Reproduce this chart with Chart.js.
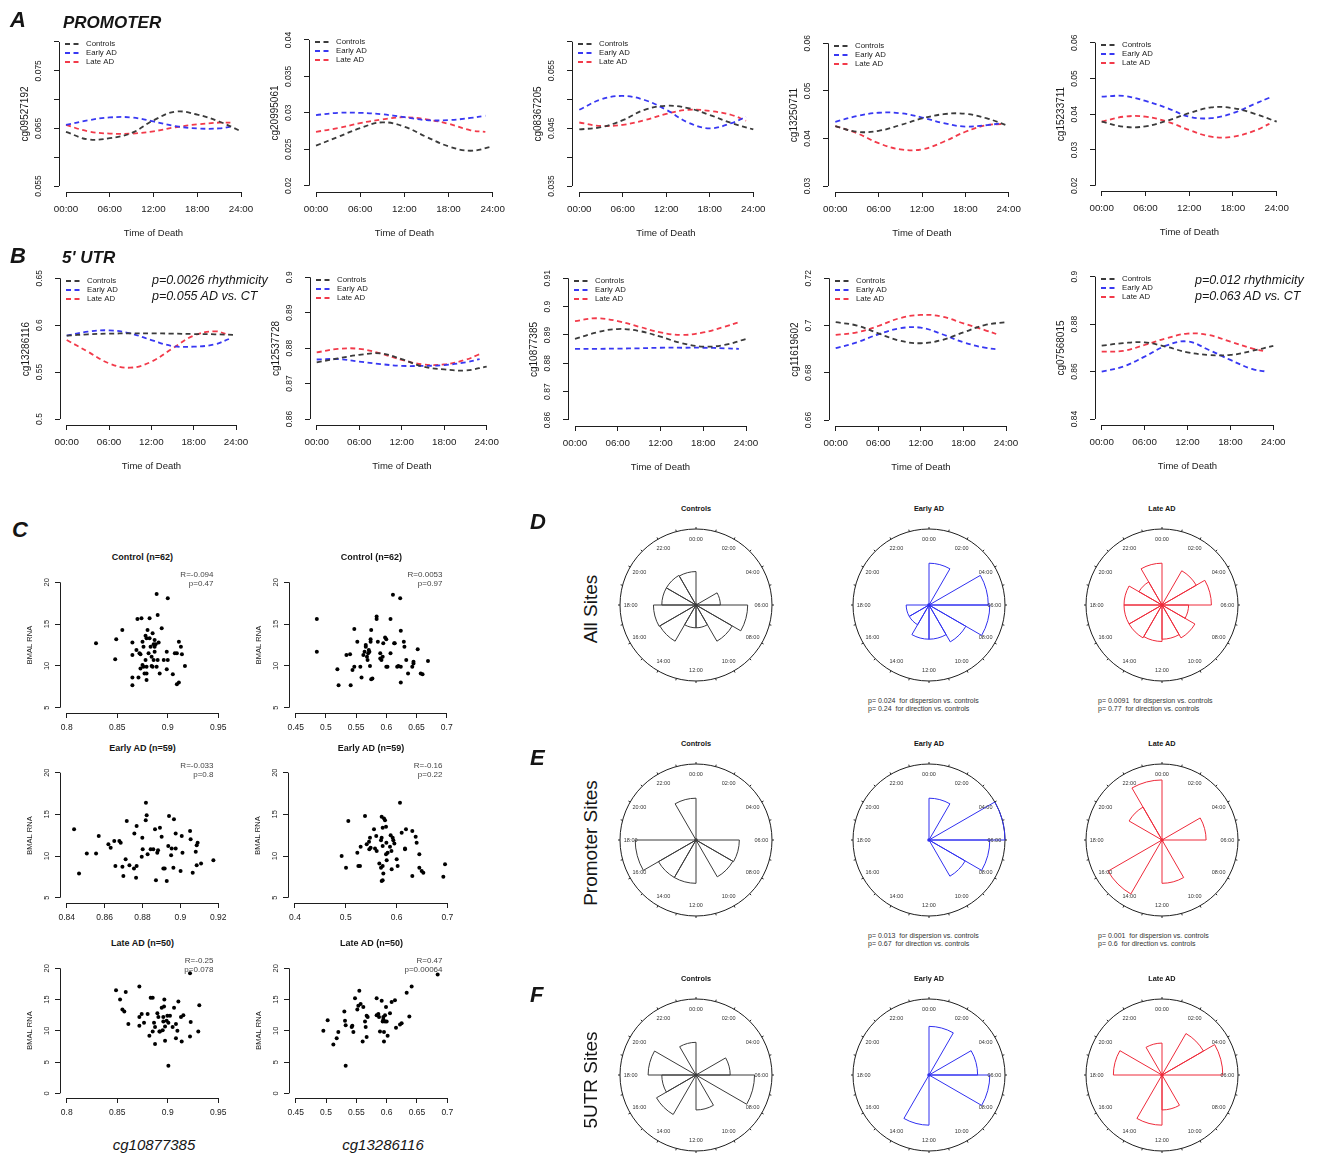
<!DOCTYPE html>
<html><head><meta charset="utf-8">
<script src="https://cdn.jsdelivr.net/npm/chart.js@4.4.1/dist/chart.umd.min.js"></script>
<style>
html,body{margin:0;padding:0;background:#fff;}
body{width:1324px;height:1157px;position:relative;overflow:hidden;font-family:'Liberation Sans',Arial,Helvetica,sans-serif;color:#151515;}
canvas{position:absolute;}
.t{position:absolute;white-space:pre;line-height:1;}
</style></head><body>
<script>
// ---------------- DATA ----------------
const GROUPS = ['Controls', 'Early AD', 'Late AD'];
const TIME_TICKS = [0, 6, 12, 18, 24];
const TIME_LABELS = ['00:00', '06:00', '12:00', '18:00', '24:00'];
const HOURS_CT = [0, 3, 6, 9, 12, 15, 18, 21, 24];
const HOURS_AD = [0, 3, 6, 9, 12, 15, 18, 21, 23];

const PROMOTER_SITES = ['cg09527192', 'cg20995061', 'cg08367205', 'cg13250711', 'cg15233711'];
const UTR_SITES = ['cg13286116', 'cg12537728', 'cg10877385', 'cg11619602', 'cg07568015'];

// Panel A (promoter)
const A1_CT = [0.0644, 0.0631, 0.0633, 0.0642, 0.0664, 0.0679, 0.0674, 0.0662, 0.0645];
const A1_EARLY = [0.0656, 0.0664, 0.0669, 0.0669, 0.0662, 0.0654, 0.0650, 0.0650, 0.0654];
const A1_LATE = [0.0656, 0.0645, 0.0641, 0.0641, 0.0645, 0.0652, 0.0657, 0.0660, 0.0660];
const A1_YTICKS = [0.055, 0.06, 0.065, 0.07, 0.075, 0.08];
const A1_YLABELS = ['0.055', '', '0.065', '', '0.075', ''];

const A2_CT = [0.0255, 0.0267, 0.0279, 0.0287, 0.0281, 0.0267, 0.0254, 0.0248, 0.0254];
const A2_EARLY = [0.0297, 0.0300, 0.0300, 0.0298, 0.0294, 0.0290, 0.0290, 0.0293, 0.0296];
const A2_LATE = [0.0274, 0.0279, 0.0286, 0.0291, 0.0294, 0.0291, 0.0285, 0.0276, 0.0274];
const A2_YTICKS = [0.02, 0.025, 0.03, 0.035, 0.04];
const A2_YLABELS = ['0.02', '0.025', '0.03', '0.035', '0.04'];

const A3_CT = [0.0448, 0.0452, 0.0464, 0.0482, 0.0489, 0.0485, 0.0473, 0.0459, 0.0448];
const A3_EARLY = [0.0482, 0.0500, 0.0506, 0.0499, 0.0482, 0.0460, 0.0450, 0.0459, 0.0470];
const A3_LATE = [0.0460, 0.0454, 0.0456, 0.0464, 0.0475, 0.0482, 0.0480, 0.0473, 0.0463];
const A3_YTICKS = [0.035, 0.04, 0.045, 0.05, 0.055, 0.06];
const A3_YLABELS = ['0.035', '', '0.045', '', '0.055', ''];

const A4_CT = [0.0426, 0.0414, 0.0416, 0.0428, 0.0442, 0.0451, 0.0452, 0.0442, 0.0426];
const A4_EARLY = [0.0435, 0.0447, 0.0454, 0.0453, 0.0444, 0.0432, 0.0425, 0.0428, 0.0432];
const A4_LATE = [0.0426, 0.0411, 0.0390, 0.0377, 0.0377, 0.0393, 0.0414, 0.0428, 0.0430];
const A4_YTICKS = [0.03, 0.04, 0.05, 0.06];
const A4_YLABELS = ['0.03', '0.04', '0.05', '0.06'];

const A5_CT = [0.0379, 0.0365, 0.0366, 0.0382, 0.0403, 0.0419, 0.0417, 0.0401, 0.0379];
const A5_EARLY = [0.0449, 0.0451, 0.0437, 0.0417, 0.0393, 0.0389, 0.0403, 0.0429, 0.0446];
const A5_LATE = [0.0379, 0.0393, 0.0393, 0.0379, 0.0356, 0.0337, 0.0337, 0.0354, 0.0373];
const A5_YTICKS = [0.02, 0.03, 0.04, 0.05, 0.06];
const A5_YLABELS = ['0.02', '0.03', '0.04', '0.05', '0.06'];

// Panel B (5' UTR)
const B1_CT = [0.5888, 0.5903, 0.5910, 0.5913, 0.5913, 0.5910, 0.5906, 0.5903, 0.5896];
const B1_EARLY = [0.5888, 0.5931, 0.5945, 0.5913, 0.5842, 0.5778, 0.5771, 0.5796, 0.5853];
const B1_LATE = [0.5842, 0.5718, 0.5593, 0.5547, 0.5611, 0.5753, 0.5888, 0.5935, 0.5896];
const B1_YTICKS = [0.5, 0.55, 0.6, 0.65];
const B1_YLABELS = ['0.5', '0.55', '0.6', '0.65'];

const B2_CT = [0.8760, 0.8771, 0.8781, 0.8785, 0.8769, 0.8748, 0.8740, 0.8737, 0.8748];
const B2_EARLY = [0.8768, 0.8769, 0.8762, 0.8755, 0.8750, 0.8750, 0.8752, 0.8760, 0.8769];
const B2_LATE = [0.8788, 0.8798, 0.8798, 0.8785, 0.8767, 0.8754, 0.8754, 0.8767, 0.8783];
const B2_YTICKS = [0.86, 0.87, 0.88, 0.89, 0.9];
const B2_YLABELS = ['0.86', '0.87', '0.88', '0.89', '0.9'];

const B3_CT = [0.8886, 0.8909, 0.8921, 0.8914, 0.8894, 0.8871, 0.8859, 0.8865, 0.8886];
const B3_EARLY = [0.8851, 0.8851, 0.8852, 0.8853, 0.8855, 0.8855, 0.8855, 0.8853, 0.8851];
const B3_LATE = [0.8949, 0.8959, 0.8949, 0.8929, 0.8909, 0.8900, 0.8909, 0.8929, 0.8945];
const B3_YTICKS = [0.86, 0.87, 0.88, 0.89, 0.9, 0.91];
const B3_YLABELS = ['0.86', '0.87', '0.88', '0.89', '0.9', '0.91'];

const B4_CT = [0.7014, 0.7000, 0.6967, 0.6936, 0.6925, 0.6939, 0.6971, 0.7002, 0.7014];
const B4_EARLY = [0.6904, 0.6929, 0.6963, 0.6988, 0.6991, 0.6963, 0.6929, 0.6906, 0.6899];
const B4_LATE = [0.6960, 0.6971, 0.6998, 0.7031, 0.7045, 0.7038, 0.7009, 0.6981, 0.6960];
const B4_YTICKS = [0.66, 0.68, 0.7, 0.72];
const B4_YLABELS = ['0.66', '0.68', '0.7', '0.72'];

const B5_CT = [0.8709, 0.8720, 0.8723, 0.8705, 0.8681, 0.8670, 0.8670, 0.8687, 0.8708];
const B5_EARLY = [0.8600, 0.8621, 0.8663, 0.8709, 0.8727, 0.8691, 0.8649, 0.8611, 0.8600];
const B5_LATE = [0.8684, 0.8687, 0.8712, 0.8740, 0.8760, 0.8754, 0.8726, 0.8698, 0.8684];
const B5_YTICKS = [0.84, 0.86, 0.88, 0.9];
const B5_YLABELS = ['0.84', '0.86', '0.88', '0.9'];

// Panel C scatter (methylation vs BMAL RNA)
const C1_X = [0.829,0.849,0.855,0.848,0.865,0.865,0.865,0.865,0.871,0.870,0.874,0.869,0.872,0.873,0.875,0.876,0.875,0.876,0.878,0.880,0.879,0.878,0.879,0.879,0.879,0.881,0.882,0.883,0.884,0.885,0.886,0.887,0.886,0.887,0.889,0.890,0.891,0.890,0.889,0.894,0.892,0.896,0.899,0.899,0.900,0.900,0.905,0.907,0.909,0.909,0.911,0.911,0.913,0.914,0.917,0.885,0.882,0.873,0.877,0.887,0.884,0.888];
const C1_Y = [12.7,13.2,14.3,10.8,7.7,8.6,11.3,12.8,8.6,15.6,15.7,11.9,11.5,11.4,12.9,12.3,10.1,9.9,13.6,14.3,13.3,10.7,9.9,9.1,8.3,11.5,15.7,12.3,11.1,9.9,10.7,11.7,12.6,13.1,9.9,10.7,12.8,16.1,18.6,14.5,9.1,10.7,9.6,11.7,10.7,18.1,9.0,11.5,11.5,7.8,8.0,12.9,12.3,11.4,10.0,13.9,13.3,9.7,9.1,12.3,10.0,12.6];
const C2_X = [0.485,0.485,0.519,0.521,0.534,0.540,0.541,0.544,0.547,0.547,0.552,0.557,0.559,0.562,0.564,0.566,0.566,0.568,0.569,0.570,0.572,0.573,0.574,0.575,0.577,0.574,0.575,0.584,0.584,0.590,0.590,0.592,0.594,0.595,0.598,0.600,0.600,0.602,0.607,0.607,0.611,0.613,0.614,0.618,0.623,0.624,0.624,0.624,0.630,0.629,0.633,0.636,0.643,0.645,0.645,0.652,0.657,0.660,0.669,0.571,0.586,0.620];
const C2_Y = [15.6,11.7,9.6,7.7,11.3,11.4,7.7,9.5,9.9,14.4,12.9,9.9,8.6,11.3,11.7,12.3,12.5,11.1,10.7,11.5,11.7,10.0,13.2,8.4,8.5,12.9,14.3,15.9,15.6,10.9,11.5,10.7,11.1,12.7,13.4,13.2,9.9,9.9,11.5,15.6,18.5,12.7,12.7,9.9,18.1,14.2,9.9,8.0,12.3,12.9,10.7,9.1,9.9,10.3,10.5,12.0,9.1,9.0,10.6,11.9,12.9,10.0];
const C3_X = [0.8439,0.8465,0.8506,0.8555,0.8569,0.862,0.8632,0.8651,0.8657,0.8678,0.8685,0.8694,0.8699,0.8711,0.8717,0.8731,0.8755,0.8757,0.8766,0.8769,0.8769,0.8799,0.8796,0.8801,0.8817,0.8818,0.8822,0.8827,0.8843,0.8857,0.8866,0.8871,0.8878,0.8882,0.8892,0.8901,0.891,0.8917,0.8928,0.8936,0.894,0.8951,0.8954,0.8963,0.8966,0.8975,0.8975,0.9007,0.9011,0.9001,0.9051,0.9054,0.9065,0.9081,0.9086,0.9091,0.9086,0.9109,0.9174];
const C3_Y = [13.2,7.9,10.3,10.3,12.4,11.4,11.0,11.8,8.8,11.8,11.6,8.7,7.6,9.6,14.2,8.9,8.5,12.7,7.4,8.8,13.6,12.2,9.9,10.8,14.3,16.4,14.9,10.2,10.8,10.8,13.2,7.1,10.4,10.7,13.4,12.3,8.5,8.5,7.0,11.2,14.8,10.1,10.9,8.6,14.4,12.7,10.9,12.4,10.4,8.2,13.0,12.0,8.0,10.5,11.3,11.6,8.9,9.1,9.5];
const C4_X = [0.4919,0.5005,0.505,0.5228,0.5248,0.528,0.5293,0.5379,0.5412,0.5458,0.5464,0.5477,0.549,0.5556,0.5576,0.5609,0.5661,0.5694,0.5694,0.5707,0.5707,0.5727,0.5727,0.5727,0.5707,0.5727,0.574,0.5753,0.5773,0.5793,0.5793,0.5806,0.5825,0.5871,0.5884,0.5904,0.5924,0.5937,0.5957,0.6003,0.6022,0.6068,0.6101,0.6167,0.6167,0.6186,0.6311,0.6311,0.6377,0.6396,0.6449,0.6449,0.6495,0.6528,0.6955,0.6922,0.58,0.56,0.59];
const C4_Y = [10.0,8.6,14.2,10.4,8.8,8.8,11.1,14.8,11.4,11.7,10.8,12.2,11.0,13.2,10.9,10.6,9.1,8.6,11.9,12.2,14.7,13.4,11.2,8.8,7.0,7.1,7.9,14.5,14.3,13.5,10.2,9.5,10.4,11.1,12.5,8.4,12.2,11.9,11.5,9.6,8.8,16.4,12.8,10.9,10.8,13.2,13.0,7.6,12.3,11.6,10.2,8.6,8.2,8.0,9.0,7.5,11.6,12.4,10.6];
const C5_X = [0.8488,0.8528,0.8551,0.8570,0.8584,0.8610,0.8719,0.8719,0.8719,0.8742,0.8765,0.8801,0.8818,0.8831,0.8851,0.8851,0.8864,0.8874,0.8874,0.8897,0.8907,0.8917,0.8923,0.8940,0.8956,0.8956,0.8966,0.8963,0.8973,0.8973,0.8989,0.8996,0.9006,0.9006,0.9022,0.9048,0.9062,0.9081,0.9081,0.9095,0.9105,0.9131,0.9138,0.9154,0.9220,0.9227,0.9220,0.9302,0.9312,0.8950];
const C5_Y = [16.5,15.0,13.4,13.1,16.2,11.1,17.1,12.2,10.8,12.7,11.3,12.7,9.2,15.3,15.3,9.9,11.3,7.9,10.6,12.8,12.2,9.9,9.9,13.7,11.5,12.2,15.0,13.9,8.4,10.7,11.6,12.4,4.4,11.3,12.4,10.6,13.7,11.1,8.8,10.0,14.7,12.2,8.3,12.5,9.1,11.4,19.2,9.9,14.1,10.1];
const C6_X = [0.4956,0.5027,0.5121,0.5176,0.5203,0.5302,0.5313,0.5324,0.5324,0.5423,0.5434,0.5451,0.5478,0.5516,0.5533,0.5549,0.5571,0.5604,0.5615,0.5643,0.5654,0.5670,0.5670,0.5687,0.5835,0.5835,0.5863,0.5874,0.5890,0.5918,0.5934,0.5945,0.5956,0.5956,0.5973,0.5973,0.5989,0.6000,0.6016,0.6055,0.6082,0.6137,0.6154,0.6220,0.6247,0.6330,0.6374,0.6412,0.6841,0.5945];
const C6_Y = [10.0,11.7,7.8,8.8,9.8,13.1,11.6,10.9,4.4,10.6,10.8,9.8,15.2,13.4,14.0,16.4,14.3,8.3,13.8,11.5,10.6,12.4,9.0,12.2,15.2,12.5,12.7,12.2,9.9,14.8,11.5,11.8,8.3,9.8,11.5,12.5,13.8,11.5,9.2,12.8,14.6,14.9,10.5,11.0,11.2,16.1,12.3,17.1,19.0,12.2];

const C_TITLES = ['Control (n=62)', 'Control (n=62)', 'Early AD (n=59)', 'Early AD (n=59)', 'Late AD (n=50)', 'Late AD (n=50)'];
const C_STATS = [['R=-0.094','p=0.47'], ['R=0.0053','p=0.97'], ['R=-0.033','p=0.8'], ['R=-0.16','p=0.22'], ['R=-0.25','p=0.078'], ['R=0.47','p=0.00064']];
const CX_A_TICKS = [0.8, 0.85, 0.9, 0.95];       const CX_A_LABELS = ['0.8', '0.85', '0.9', '0.95'];
const CX_B_TICKS = [0.45, 0.5, 0.55, 0.6, 0.65, 0.7]; const CX_B_LABELS = ['0.45', '0.5', '0.55', '0.6', '0.65', '0.7'];
const CX_C_TICKS = [0.84, 0.86, 0.88, 0.9, 0.92]; const CX_C_LABELS = ['0.84', '0.86', '0.88', '0.9', '0.92'];
const CX_D_TICKS = [0.4, 0.5, 0.6, 0.7];          const CX_D_LABELS = ['0.4', '0.5', '0.6', '0.7'];
const CY_TICKS = [5, 10, 15, 20];                 const CY_LABELS = ['5', '10', '15', '20'];
const CY0_TICKS = [0, 5, 10, 15, 20];             const CY0_LABELS = ['0', '5', '10', '15', '20'];

// Panels D-F rose diagrams: relative radius per 2-hour bin (00-02, 02-04, ... 22-24)
const HOUR_LABELS = ['00:00','02:00','04:00','06:00','08:00','10:00','12:00','14:00','16:00','18:00','20:00','22:00'];
const ROSE_ALL_CT    = [0, 0, 0.32, 0.68, 0.55, 0.30, 0.30, 0.55, 0.56, 0.45, 0.45, 0.44];
const ROSE_ALL_EARLY = [0.55, 0, 0.78, 0.80, 0.56, 0.45, 0.45, 0.30, 0.30, 0, 0, 0];
const ROSE_ALL_LATE  = [0, 0.52, 0.65, 0.35, 0.50, 0.45, 0.48, 0.50, 0.50, 0.50, 0.35, 0.55];
const ROSE_PROM_CT    = [0, 0, 0, 0.57, 0.56, 0, 0.57, 0.57, 0.80, 0, 0, 0.55];
const ROSE_PROM_EARLY = [0.55, 0, 1.0, 0.80, 0.55, 0, 0, 0, 0, 0, 0, 0];
const ROSE_PROM_LATE  = [0, 0, 0.58, 0, 0, 0.57, 0, 0.82, 0, 0, 0.50, 0.79];
const ROSE_UTR_CT    = [0, 0, 0.45, 0.77, 0, 0.46, 0, 0.60, 0.45, 0.63, 0, 0.43];
const ROSE_UTR_EARLY = [0.64, 0, 0.64, 0.80, 0, 0, 0.66, 0, 0, 0, 0, 0];
const ROSE_UTR_LATE  = [0, 0.63, 0.80, 0, 0, 0.46, 0.66, 0, 0, 0.64, 0, 0.42];

// ---------------- STYLE / LAYOUT ----------------
const FAM = '"Liberation Sans", Arial, Helvetica, sans-serif';
Chart.defaults.font.family = FAM;
Chart.defaults.color = '#1a1a1a';
Chart.defaults.animation = false;
const COL = { ct: '#3b3b3b', early: '#3838f2', late: '#f23a4a' };

const alignPx = p => Math.round(p - 0.5) + 0.5;

const rAxes = {
  id: 'rAxes',
  afterDraw(chart, args, o) {
    if (!o || !o.on) return;
    const ctx = chart.ctx, ca = chart.chartArea, xs = chart.scales.x, ys = chart.scales.y;
    const xt = xs.ticks, yt = ys.ticks;
    ctx.save();
    ctx.strokeStyle = '#1e1e1e'; ctx.lineWidth = 1; ctx.setLineDash([]);
    const lx = alignPx(ca.left), by = alignPx(ca.bottom);
    ctx.beginPath();
    ctx.moveTo(lx, ys.getPixelForValue(yt[0].value)); ctx.lineTo(lx, ys.getPixelForValue(yt[yt.length - 1].value));
    ctx.moveTo(xs.getPixelForValue(xt[0].value), by); ctx.lineTo(xs.getPixelForValue(xt[xt.length - 1].value), by);
    ctx.stroke();
    ctx.fillStyle = '#1a1a1a'; ctx.font = o.yFont; ctx.textAlign = 'center'; ctx.textBaseline = 'middle';
    yt.forEach((t, i) => {
      const lab = o.yLabels[i]; if (!lab) return;
      ctx.save(); ctx.translate(ca.left - o.yOff, ys.getPixelForValue(t.value)); ctx.rotate(-Math.PI / 2);
      ctx.fillText(lab, 0, 0); ctx.restore();
    });
    if (o.legend) {
      const L = o.legend;
      ctx.font = L.font; ctx.textAlign = 'left';
      chart.data.datasets.forEach((ds, i) => {
        const y = ca.top + L.y0 + i * L.dy;
        ctx.strokeStyle = ds.borderColor; ctx.lineWidth = ds.borderWidth; ctx.setLineDash(ds.borderDash || []);
        ctx.beginPath(); ctx.moveTo(ca.left + L.x0, y); ctx.lineTo(ca.left + L.x1, y); ctx.stroke();
        ctx.fillStyle = '#1a1a1a'; ctx.fillText(ds.label, ca.left + L.xt, y);
      });
    }
    ctx.restore();
  }
};

const roseDeco = {
  id: 'roseDeco',
  afterDraw(chart, args, o) {
    if (!o || !o.on) return;
    const r = chart.scales.r, ctx = chart.ctx;
    const cx = r.xCenter, cy = r.yCenter, R = r.drawingArea;
    ctx.save();
    ctx.fillStyle = '#333'; ctx.font = '5.5px ' + FAM; ctx.textAlign = 'center'; ctx.textBaseline = 'middle';
    chart.data.labels.forEach((lab, i) => {
      const a = i * Math.PI * 2 / chart.data.labels.length - Math.PI / 2;
      ctx.fillText(lab, cx + Math.cos(a) * R * o.labelR, cy + Math.sin(a) * R * o.labelR);
    });
    ctx.strokeStyle = '#222'; ctx.lineWidth = 1;
    for (let k = 0; k < 24; k++) {
      const a = k * Math.PI * 2 / 24 - Math.PI / 2;
      ctx.beginPath(); ctx.moveTo(cx + Math.cos(a) * R, cy + Math.sin(a) * R);
      ctx.lineTo(cx + Math.cos(a) * (R + 2), cy + Math.sin(a) * (R + 2)); ctx.stroke();
    }
    ctx.fillStyle = o.color; ctx.beginPath(); ctx.arc(cx, cy, 1.8, 0, Math.PI * 2); ctx.fill();
    ctx.restore();
  }
};
Chart.register(rAxes, roseDeco);

function addCanvas(left, top, w, h) {
  const c = document.createElement('canvas');
  c.width = Math.round(w); c.height = Math.round(h);
  c.style.left = Math.round(left) + 'px'; c.style.top = Math.round(top) + 'px';
  document.body.appendChild(c);
  return c.getContext('2d');
}

function txt(s, x, y, css, align) {
  const d = document.createElement('div');
  d.className = 't'; d.textContent = s; d.style.cssText += css;
  d.style.left = x + 'px'; d.style.top = y + 'px';
  const tf = { l: 'translate(0,-50%)', c: 'translate(-50%,-50%)', r: 'translate(-100%,-50%)', v: 'translate(-50%,-50%) rotate(-90deg)' };
  d.style.transform = tf[align || 'l'];
  document.body.appendChild(d);
}

const gridTicks = { drawOnChartArea: false, drawTicks: true, tickLength: 5, color: '#1e1e1e', lineWidth: 1 };

// line plots: pixel positions of 00:00 / 24:00 and of the top / bottom y tick
const LINE_LAYOUT = [
  { x0: 66, x24: 241, top: 42, bot: 186 },
  { x0: 316, x24: 492.7, top: 40, bot: 185.7 },
  { x0: 579.3, x24: 753.3, top: 41.7, bot: 186 },
  { x0: 835.3, x24: 1008.7, top: 43.3, bot: 186 },
  { x0: 1101.7, x24: 1276.7, top: 42.7, bot: 185.7 },
  { x0: 66.7, x24: 236, top: 278.3, bot: 419 },
  { x0: 316.7, x24: 486.7, top: 277.3, bot: 419 },
  { x0: 575, x24: 746, top: 278.3, bot: 420 },
  { x0: 835.7, x24: 1006, top: 278.3, bot: 420 },
  { x0: 1101.7, x24: 1273.3, top: 276.7, bot: 419 }
];

function linePlot(L, site, yTicks, yLabels, ct, early, late) {
  const ca = {
    left: Math.round(L.x0 - 0.04 * (L.x24 - L.x0)), right: Math.round(L.x24 + 0.04 * (L.x24 - L.x0)),
    top: Math.round(L.top - 0.04 * (L.bot - L.top)), bottom: Math.round(L.bot + 0.04 * (L.bot - L.top))
  };
  const pxh = (L.x24 - L.x0) / 24;
  const xmin = -(L.x0 - ca.left) / pxh, xmax = 24 + (ca.right - L.x24) / pxh;
  const yLo = yTicks[0], yHi = yTicks[yTicks.length - 1];
  const pxy = (L.bot - L.top) / (yHi - yLo);
  const ymin = yLo - (ca.bottom - L.bot) / pxy, ymax = yHi + (L.top - ca.top) / pxy;
  const WY = 42, HX = 48, PT = 6, PR = 22;
  const ctx = addCanvas(ca.left - WY, ca.top - PT, ca.right - ca.left + WY + PR, ca.bottom - ca.top + PT + HX);
  const mk = (lab, hrs, vals, col) => ({
    label: lab, data: hrs.map((h, i) => ({ x: h, y: vals[i] })), borderColor: col, borderWidth: 1.8,
    borderDash: [5, 3.5], pointRadius: 0, tension: 0.4, fill: false
  });
  new Chart(ctx, {
    type: 'line',
    data: { datasets: [mk(GROUPS[0], HOURS_CT, ct, COL.ct), mk(GROUPS[1], HOURS_AD, early, COL.early), mk(GROUPS[2], HOURS_AD, late, COL.late)] },
    options: {
      responsive: false, animation: false, devicePixelRatio: 1,
      layout: { padding: { left: 0, top: PT, right: PR, bottom: 0 } },
      plugins: {
        legend: { display: false }, tooltip: { enabled: false },
        rAxes: { on: true, yLabels: yLabels, yOff: 20, yFont: '8.5px ' + FAM,
          legend: { x0: 6, x1: 23, xt: 27, y0: 8, dy: 9, font: '7.8px ' + FAM } }
      },
      scales: {
        x: {
          type: 'linear', min: xmin, max: xmax,
          afterBuildTicks: s => { s.ticks = TIME_TICKS.map(v => ({ value: v })); },
          afterFit: s => { s.height = HX; },
          grid: gridTicks, border: { display: false },
          ticks: { autoSkip: false, maxRotation: 0, minRotation: 0, padding: 6.3, color: '#1a1a1a',
            font: { size: 9.8, lineHeight: 1.2 }, callback: (v, i) => TIME_LABELS[i] },
          title: { display: true, text: 'Time of Death', color: '#1a1a1a', font: { size: 9.5, lineHeight: 1.2 }, padding: { top: 0, bottom: 1.3 } }
        },
        y: {
          type: 'linear', min: ymin, max: ymax,
          afterBuildTicks: s => { s.ticks = yTicks.map(v => ({ value: v })); },
          afterFit: s => { s.width = WY; },
          grid: gridTicks, border: { display: false }, ticks: { display: false },
          title: { display: true, text: site, color: '#1a1a1a', font: { size: 10, lineHeight: 1.2 }, padding: { top: 2, bottom: 0 } }
        }
      }
    }
  });
}

// scatter plots: pixel positions of first / last x tick and top / bottom y tick
const SCATTER_LAYOUT = [
  { x0: 66.7, x1: 218.3, top: 582.3, bot: 707.7 },
  { x0: 295.7, x1: 446.7, top: 582.3, bot: 707.7 },
  { x0: 66.7, x1: 218.3, top: 772.7, bot: 897.7 },
  { x0: 295, x1: 447.3, top: 772.7, bot: 897.7 },
  { x0: 66.7, x1: 218.3, top: 968.3, bot: 1093.3 },
  { x0: 295.7, x1: 447.3, top: 968.3, bot: 1093.3 }
];

function scatterPlot(L, xTicks, xLabels, yTicks, yLabels, xs, ys, title, stats) {
  const ca = { left: Math.round(L.x0 - 7), right: Math.round(L.x1 + 7), top: Math.round(L.top - 5), bottom: Math.round(L.bot + 5) };
  const xLo = xTicks[0], xHi = xTicks[xTicks.length - 1], yLo = yTicks[0], yHi = yTicks[yTicks.length - 1];
  const pxx = (L.x1 - L.x0) / (xHi - xLo), pxy = (L.bot - L.top) / (yHi - yLo);
  const xmin = xLo - (L.x0 - ca.left) / pxx, xmax = xHi + (ca.right - L.x1) / pxx;
  const ymin = yLo - (ca.bottom - L.bot) / pxy, ymax = yHi + (L.top - ca.top) / pxy;
  const WY = 40, HX = 24, PT = 6, PR = 16;
  const ctx = addCanvas(ca.left - WY, ca.top - PT, ca.right - ca.left + WY + PR, ca.bottom - ca.top + PT + HX);
  new Chart(ctx, {
    type: 'scatter',
    data: { datasets: [{ label: title, data: xs.map((x, i) => ({ x: x, y: ys[i] })), pointRadius: 2, pointBackgroundColor: '#000', pointBorderWidth: 0, borderWidth: 0 }] },
    options: {
      responsive: false, animation: false, devicePixelRatio: 1,
      layout: { padding: { left: 0, top: PT, right: PR, bottom: 0 } },
      plugins: { legend: { display: false }, tooltip: { enabled: false },
        rAxes: { on: true, yLabels: yLabels, yOff: 13, yFont: '7.5px ' + FAM } },
      scales: {
        x: {
          type: 'linear', min: xmin, max: xmax,
          afterBuildTicks: s => { s.ticks = xTicks.map(v => ({ value: v })); },
          afterFit: s => { s.height = HX; },
          grid: gridTicks, border: { display: false },
          ticks: { autoSkip: false, maxRotation: 0, minRotation: 0, padding: 4.9, color: '#1a1a1a',
            font: { size: 8.5, lineHeight: 1.2 }, callback: (v, i) => xLabels[i] }
        },
        y: {
          type: 'linear', min: ymin, max: ymax,
          afterBuildTicks: s => { s.ticks = yTicks.map(v => ({ value: v })); },
          afterFit: s => { s.width = WY; },
          grid: gridTicks, border: { display: false }, ticks: { display: false },
          title: { display: true, text: 'BMAL RNA', color: '#1a1a1a', font: { size: 7.5, lineHeight: 1.2 }, padding: { top: 5.5, bottom: 0 } }
        }
      }
    }
  });
  txt(title, (ca.left + ca.right) / 2, ca.top - 20, 'font-size:9px;font-weight:bold;', 'c');
  txt(stats[0], ca.right - 11.5, ca.top - 2.5, 'font-size:8px;color:#444;', 'r');
  txt(stats[1], ca.right - 11.5, ca.top + 6.8, 'font-size:8px;color:#444;', 'r');
}

const ROSE_CX = [696, 929, 1162];
const ROSE_CY = [605, 840, 1075];
function rose(cx, cy, vals, color) {
  const R = 76, P = 3;
  const ctx = addCanvas(cx - R - P, cy - R - P, 2 * (R + P), 2 * (R + P));
  new Chart(ctx, {
    type: 'polarArea',
    data: { labels: HOUR_LABELS, datasets: [{ data: vals, borderColor: color, backgroundColor: 'rgba(255,255,255,0)', borderWidth: 1 }] },
    options: {
      responsive: false, animation: false, devicePixelRatio: 1,
      layout: { padding: P },
      plugins: { legend: { display: false }, tooltip: { enabled: false }, roseDeco: { on: true, labelR: 0.86, color: color } },
      scales: { r: { min: 0, max: 1, ticks: { display: false, stepSize: 1 }, grid: { circular: true, color: '#1e1e1e', lineWidth: 1 },
        angleLines: { display: false }, pointLabels: { display: false } } }
    }
  });
}

// ---------------- BUILD ----------------
const A_DATA = [
  [A1_YTICKS, A1_YLABELS, A1_CT, A1_EARLY, A1_LATE], [A2_YTICKS, A2_YLABELS, A2_CT, A2_EARLY, A2_LATE],
  [A3_YTICKS, A3_YLABELS, A3_CT, A3_EARLY, A3_LATE], [A4_YTICKS, A4_YLABELS, A4_CT, A4_EARLY, A4_LATE],
  [A5_YTICKS, A5_YLABELS, A5_CT, A5_EARLY, A5_LATE]];
const B_DATA = [
  [B1_YTICKS, B1_YLABELS, B1_CT, B1_EARLY, B1_LATE], [B2_YTICKS, B2_YLABELS, B2_CT, B2_EARLY, B2_LATE],
  [B3_YTICKS, B3_YLABELS, B3_CT, B3_EARLY, B3_LATE], [B4_YTICKS, B4_YLABELS, B4_CT, B4_EARLY, B4_LATE],
  [B5_YTICKS, B5_YLABELS, B5_CT, B5_EARLY, B5_LATE]];
A_DATA.forEach((d, i) => linePlot(LINE_LAYOUT[i], PROMOTER_SITES[i], d[0], d[1], d[2], d[3], d[4]));
B_DATA.forEach((d, i) => linePlot(LINE_LAYOUT[5 + i], UTR_SITES[i], d[0], d[1], d[2], d[3], d[4]));

scatterPlot(SCATTER_LAYOUT[0], CX_A_TICKS, CX_A_LABELS, CY_TICKS, CY_LABELS, C1_X, C1_Y, C_TITLES[0], C_STATS[0]);
scatterPlot(SCATTER_LAYOUT[1], CX_B_TICKS, CX_B_LABELS, CY_TICKS, CY_LABELS, C2_X, C2_Y, C_TITLES[1], C_STATS[1]);
scatterPlot(SCATTER_LAYOUT[2], CX_C_TICKS, CX_C_LABELS, CY_TICKS, CY_LABELS, C3_X, C3_Y, C_TITLES[2], C_STATS[2]);
scatterPlot(SCATTER_LAYOUT[3], CX_D_TICKS, CX_D_LABELS, CY_TICKS, CY_LABELS, C4_X, C4_Y, C_TITLES[3], C_STATS[3]);
scatterPlot(SCATTER_LAYOUT[4], CX_A_TICKS, CX_A_LABELS, CY0_TICKS, CY0_LABELS, C5_X, C5_Y, C_TITLES[4], C_STATS[4]);
scatterPlot(SCATTER_LAYOUT[5], CX_B_TICKS, CX_B_LABELS, CY0_TICKS, CY0_LABELS, C6_X, C6_Y, C_TITLES[5], C_STATS[5]);

const ROSES = [
  [ROSE_ALL_CT, ROSE_ALL_EARLY, ROSE_ALL_LATE],
  [ROSE_PROM_CT, ROSE_PROM_EARLY, ROSE_PROM_LATE],
  [ROSE_UTR_CT, ROSE_UTR_EARLY, ROSE_UTR_LATE]];
const ROSE_COLS = [COL.ct, '#3030f0', '#ee2a3a'];
ROSES.forEach((row, r) => row.forEach((vals, c) => {
  rose(ROSE_CX[c], ROSE_CY[r], vals, ROSE_COLS[c]);
  txt(GROUPS[c], ROSE_CX[c], ROSE_CY[r] - 96, 'font-size:7.3px;font-weight:bold;', 'c');
}));

// ---------------- ANNOTATIONS ----------------
const BIG = 'font-size:22px;font-weight:bold;font-style:italic;';
txt('A', 10, 20, BIG); txt('PROMOTER', 63, 22, 'font-size:17px;font-weight:bold;font-style:italic;');
txt('B', 10, 256, BIG); txt("5' UTR", 62, 257, 'font-size:17px;font-weight:bold;font-style:italic;');
txt('C', 12, 530, BIG);
txt('D', 530, 522, BIG); txt('E', 530, 758, BIG); txt('F', 530, 995, BIG);
const PI = 'font-size:12.5px;font-style:italic;';
txt('p=0.0026 rhythmicity', 152, 280, PI); txt('p=0.055 AD vs. CT', 152, 296, PI);
txt('p=0.012 rhythmicity', 1195, 280, PI); txt('p=0.063 AD vs. CT', 1195, 296, PI);
txt('cg10877385', 154, 1144, 'font-size:15px;font-style:italic;', 'c');
txt('cg13286116', 383, 1144, 'font-size:15px;font-style:italic;', 'c');
txt('All Sites', 590, 609, 'font-size:19px;', 'v');
txt('Promoter Sites', 590, 843, 'font-size:19px;', 'v');
txt('5UTR Sites', 590, 1080, 'font-size:19px;', 'v');
const PS = 'font-size:7px;color:#333;';
txt('p= 0.024  for dispersion vs. controls', 868, 700, PS); txt('p= 0.24  for direction vs. controls', 868, 707.5, PS);
txt('p= 0.0091  for dispersion vs. controls', 1098, 700, PS); txt('p= 0.77  for direction vs. controls', 1098, 707.5, PS);
txt('p= 0.013  for dispersion vs. controls', 868, 935, PS); txt('p= 0.67  for direction vs. controls', 868, 942.5, PS);
txt('p= 0.001  for dispersion vs. controls', 1098, 935, PS); txt('p= 0.6  for direction vs. controls', 1098, 942.5, PS);
</script>
</body></html>
